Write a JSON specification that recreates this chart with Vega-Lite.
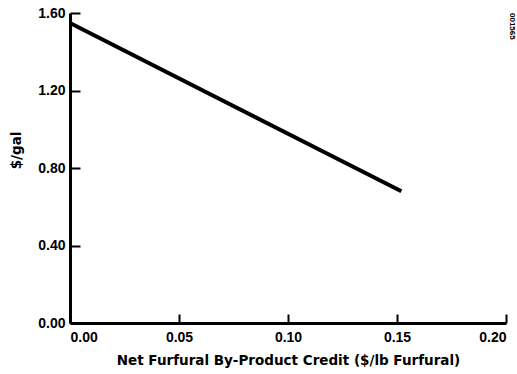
{
  "$schema": "https://vega.github.io/schema/vega-lite/v6.json",
  "autosize": {"type": "none"},
  "width": 436,
  "height": 310,
  "padding": {"left": 70, "top": 13, "right": 11, "bottom": 51},
  "background": "white",
  "config": {
    "view": {"stroke": null},
    "font": "Liberation Sans",
    "axis": {
      "domainColor": "black",
      "domainWidth": 3,
      "tickColor": "black",
      "tickWidth": 2,
      "ticks": true,
      "labelFont": "Liberation Sans",
      "labelFontWeight": "bold",
      "labelFontSize": 14,
      "labelColor": "black",
      "titleFont": "DejaVu Sans",
      "titleFontWeight": "bold",
      "titleFontSize": 13.5,
      "titleColor": "black",
      "grid": false
    }
  },
  "data": {
    "values": [
      {"credit": 0.0, "cost": 1.548},
      {"credit": 0.152, "cost": 0.68}
    ]
  },
  "layer": [
    {
      "mark": {"type": "line", "color": "black", "strokeWidth": 4},
      "encoding": {
        "x": {
          "field": "credit",
          "type": "quantitative",
          "scale": {"domain": [0, 0.2], "nice": false},
          "axis": {
            "title": "Net Furfural By-Product Credit ($/lb  Furfural)",
            "values": [0, 0.05, 0.1, 0.15, 0.2],
            "format": ".2f",
            "tickSize": -9,
            "labelPadding": 16,
            "titlePadding": 9
          }
        },
        "y": {
          "field": "cost",
          "type": "quantitative",
          "scale": {"domain": [0, 1.6], "nice": false},
          "axis": {
            "title": "$/gal",
            "titleY": 137,
            "values": [0, 0.2, 0.4, 0.6, 0.8, 1.0, 1.2, 1.4, 1.6],
            "format": ".2f",
            "labelExpr": "round(datum.value * 10) % 4 == 0 ? datum.label : ''",
            "tickSize": {"condition": {"test": "round(datum.value * 10) % 4 == 0", "value": -10}, "value": -5},
            "labelPadding": 15,
            "titlePadding": 14
          }
        }
      }
    },
    {
      "data": {"values": [{"credit": 0.2, "cost": 1.6, "code": "001565"}]},
      "mark": {"type": "text", "angle": 90, "fontSize": 8, "fontWeight": "bold", "align": "left", "baseline": "middle", "dx": 0, "dy": -6, "color": "black"},
      "encoding": {
        "x": {"field": "credit", "type": "quantitative"},
        "y": {"field": "cost", "type": "quantitative"},
        "text": {"field": "code"}
      }
    }
  ]
}
